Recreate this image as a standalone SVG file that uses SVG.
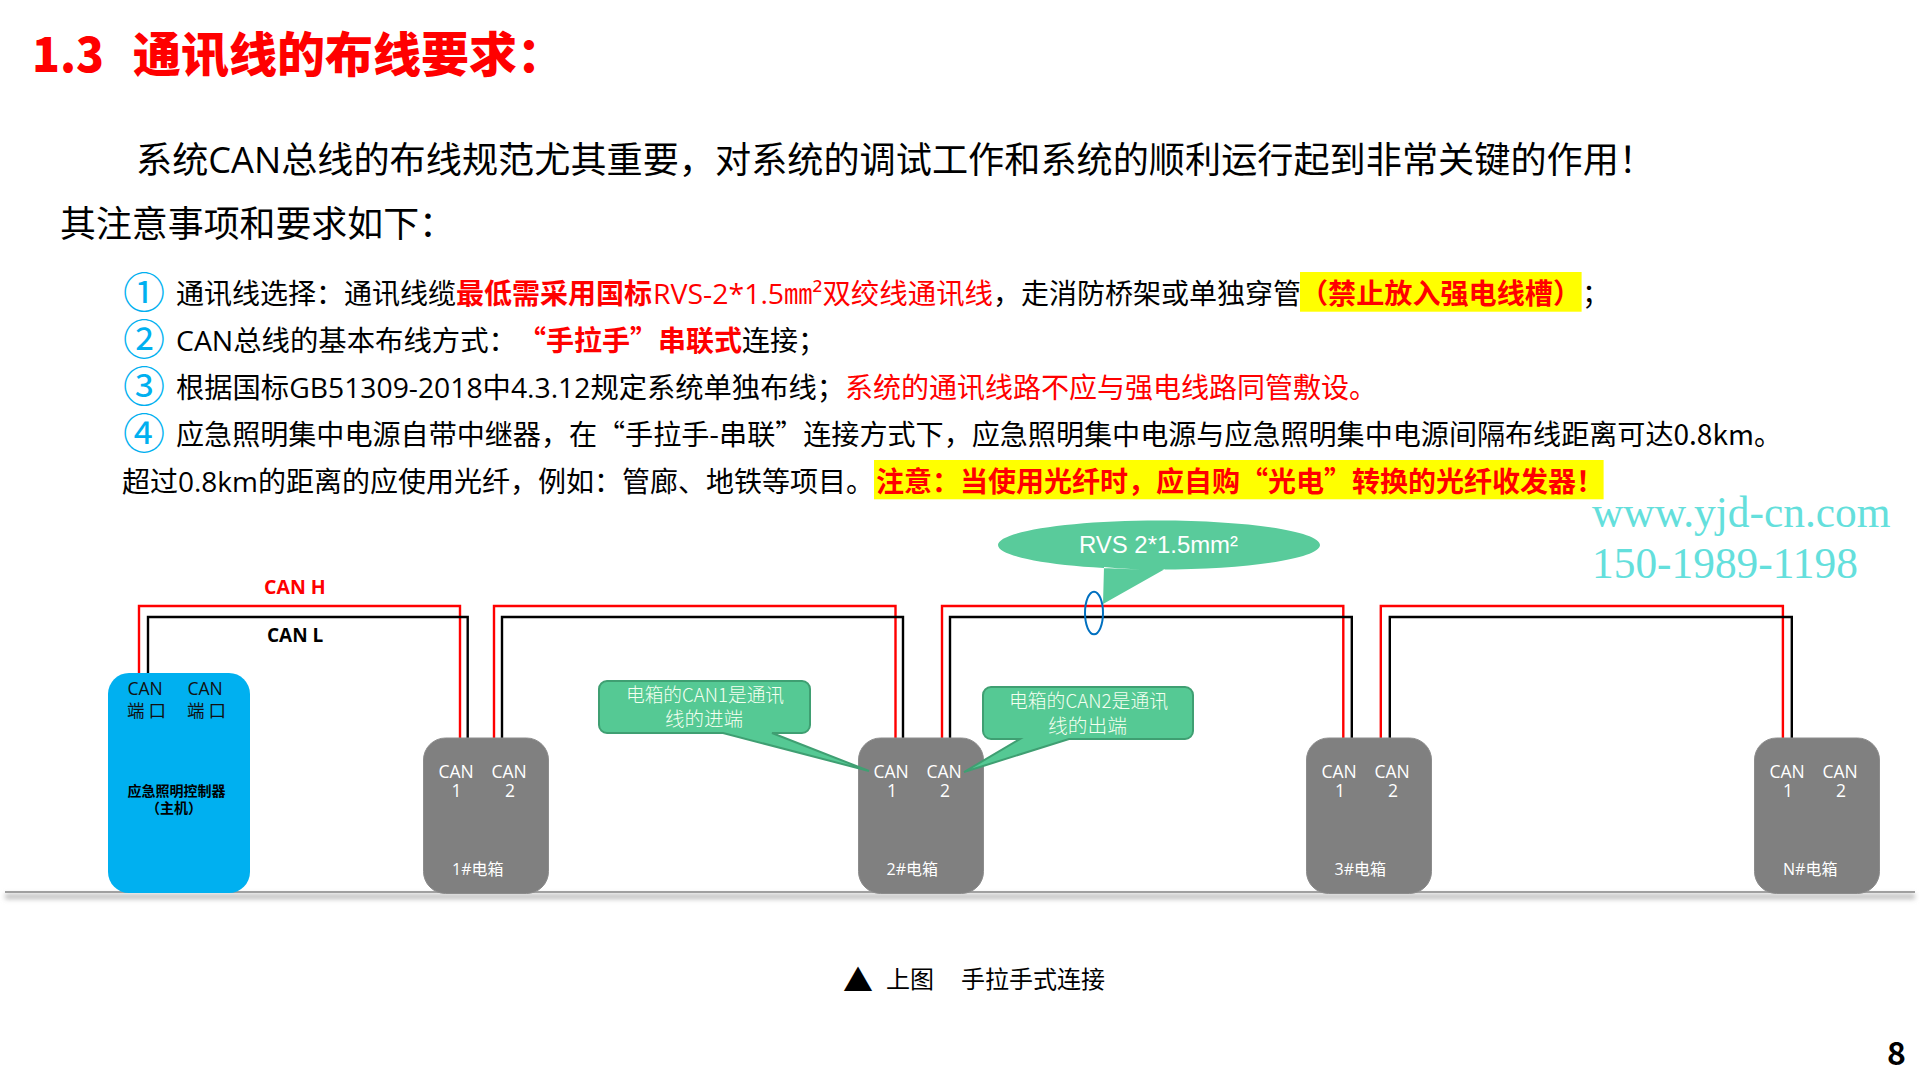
<svg xmlns="http://www.w3.org/2000/svg" width="1920" height="1080" viewBox="0 0 1920 1080">
<defs>
<filter id="sh" x="-2%" y="-300%" width="104%" height="700%"><feGaussianBlur stdDeviation="2.5"/></filter>
</defs>
<style>
text{font-family:"Open Sans","Noto Sans CJK SC",sans-serif;white-space:pre}
.c{font-family:"Noto Sans CJK SC",sans-serif}
.b{font-size:28px;fill:#000}
.r{fill:#f00}
.B{font-weight:700}
.h{fill:#ff0}
.n{font-family:"Noto Sans CJK SC",sans-serif;font-size:42px;fill:#00b0f0;text-anchor:middle}
.red{fill:none;stroke:#f00;stroke-width:2.4}
.blk{fill:none;stroke:#000;stroke-width:2.4}
.box{fill:#808080;stroke:#8c8c8c;stroke-width:1}
.w{fill:#fff;font-size:17.5px}
.wl{fill:#fff;font-size:16px}
.k{fill:#111;font-size:17.5px}
.call{fill:#55c994;stroke:#3f9f72;stroke-width:2}
.ct{fill:#f4fff0;font-size:19px;font-family:"Noto Sans CJK SC",sans-serif;font-weight:300}
.wm{font-family:"Liberation Serif",serif;font-size:43.4px;fill:#64dfdc}
</style>
<rect width="1920" height="1080" fill="#fff"/>
<g id="heading">
<text x="32" y="72" font-size="48" font-weight="900" fill="#f00" class="c" textLength="72" lengthAdjust="spacingAndGlyphs">1.3</text>
<text x="133" y="72" font-size="48" font-weight="900" fill="#f00" class="c" textLength="432" lengthAdjust="spacingAndGlyphs">通讯线的布线要求：</text>
<text x="136" y="173" font-size="36" textLength="1519" lengthAdjust="spacingAndGlyphs">系统CAN总线的布线规范尤其重要，对系统的调试工作和系统的顺利运行起到非常关键的作用！</text>
<text x="60" y="237" font-size="36" textLength="395" lengthAdjust="spacingAndGlyphs">其注意事项和要求如下：</text>
</g>
<g id="list">
<rect class="h" x="1300" y="272" width="281.6" height="39.7"/>
<rect class="h" x="874" y="460" width="729.6" height="39.3"/>
<text class="n" x="144" y="308">①</text>
<text class="n" x="144" y="355">②</text>
<text class="n" x="144" y="402">③</text>
<text class="n" x="144" y="449">④</text>
<text class="b" x="176" y="304" textLength="280" lengthAdjust="spacingAndGlyphs">通讯线选择：通讯线缆</text>
<text class="b r B" x="456" y="304" textLength="196" lengthAdjust="spacingAndGlyphs">最低需采用国标</text>
<text class="b r" x="653" y="304" textLength="340" lengthAdjust="spacingAndGlyphs">RVS-2*1.5㎜²双绞线通讯线</text>
<text class="b" x="993" y="304" textLength="308" lengthAdjust="spacingAndGlyphs">，走消防桥架或单独穿管</text>
<text class="b r B" x="1300" y="304" textLength="281" lengthAdjust="spacingAndGlyphs">（禁止放入强电线槽）</text>
<text class="b" x="1582" y="304">；</text>
<text class="b" x="176" y="351" textLength="341" lengthAdjust="spacingAndGlyphs">CAN总线的基本布线方式：</text>
<text class="b r B c" x="518" y="351" textLength="224" lengthAdjust="spacingAndGlyphs">“手拉手”串联式</text>
<text class="b" x="742" y="351" textLength="84" lengthAdjust="spacingAndGlyphs">连接；</text>
<text class="b" x="176" y="398" textLength="669" lengthAdjust="spacingAndGlyphs">根据国标GB51309-2018中4.3.12规定系统单独布线；</text>
<text class="b r" x="845" y="398" textLength="532" lengthAdjust="spacingAndGlyphs">系统的通讯线路不应与强电线路同管敷设。</text>
<text class="b c" x="176" y="445" textLength="1606" lengthAdjust="spacingAndGlyphs">应急照明集中电源自带中继器，在“手拉手-串联”连接方式下，应急照明集中电源与应急照明集中电源间隔布线距离可达0.8km。</text>
<text class="b" x="122" y="492" textLength="752" lengthAdjust="spacingAndGlyphs">超过0.8km的距离的应使用光纤，例如：管廊、地铁等项目。</text>
<text class="b r B c" x="876" y="492" textLength="728" lengthAdjust="spacingAndGlyphs">注意：当使用光纤时，应自购“光电”转换的光纤收发器！</text>
</g>
<g id="watermark">
<text class="wm" x="1592" y="527">www.yjd-cn.com</text>
<text class="wm" x="1592" y="578">150-1989-1198</text>
</g>
<g id="ground">
<rect x="5" y="894" width="1910" height="5" fill="#bbb" filter="url(#sh)"/>
<rect x="5" y="891" width="1910" height="2" fill="#a0a0a0"/>
</g>
<g id="connectors">
<path class="red" d="M139 673V606H460V738"/>
<path class="blk" d="M148 673V617H467.700V738"/>
<path class="red" d="M494 738V606H895.500V738"/>
<path class="blk" d="M502 738V617H903V738"/>
<path class="red" d="M942 738V606H1343.300V738"/>
<path class="blk" d="M950 738V617H1351.800V738"/>
<path class="red" d="M1380.800 738V606H1782.900V738"/>
<path class="blk" d="M1389.800 738V617H1791.800V738"/>
</g>
<g id="host">
<rect x="108" y="673" width="142" height="220" rx="21" fill="#00b0f0"/>
<text class="k" x="127.500" y="695">CAN</text><text class="k c" x="127" y="716.500">端 口</text>
<text class="k" x="187.500" y="695">CAN</text><text class="k c" x="187" y="716.500">端 口</text>
<text x="127.500" y="795.500" font-size="14" font-weight="700" class="c">应急照明控制器</text>
<text x="146" y="813" font-size="14" font-weight="700" class="c">（主机）</text>
</g>
<g id="box1">
<rect class="box" x="423.500" y="738" width="125" height="155.500" rx="22"/>
<text class="w" x="438.500" y="778">CAN</text><text class="w" x="456.500" y="797" text-anchor="middle">1</text>
<text class="w" x="491.500" y="778">CAN</text><text class="w" x="510" y="797" text-anchor="middle">2</text>
<text class="wl" x="452" y="875">1#电箱</text>
</g>
<g id="box2">
<rect class="box" x="858.500" y="738" width="125" height="155.500" rx="22"/>
<text class="w" x="873.500" y="778">CAN</text><text class="w" x="892" y="797" text-anchor="middle">1</text>
<text class="w" x="926.500" y="778">CAN</text><text class="w" x="945" y="797" text-anchor="middle">2</text>
<text class="wl" x="886.500" y="875">2#电箱</text>
</g>
<g id="box3">
<rect class="box" x="1306.500" y="738" width="125" height="155.500" rx="22"/>
<text class="w" x="1321.500" y="778">CAN</text><text class="w" x="1340" y="797" text-anchor="middle">1</text>
<text class="w" x="1374.500" y="778">CAN</text><text class="w" x="1393" y="797" text-anchor="middle">2</text>
<text class="wl" x="1334.500" y="875">3#电箱</text>
</g>
<g id="boxN">
<rect class="box" x="1754.500" y="738" width="125" height="155.500" rx="22"/>
<text class="w" x="1769.500" y="778">CAN</text><text class="w" x="1788" y="797" text-anchor="middle">1</text>
<text class="w" x="1822.500" y="778">CAN</text><text class="w" x="1841" y="797" text-anchor="middle">2</text>
<text class="wl" x="1783" y="875">N#电箱</text>
</g>
<g id="label-can">
<text x="264" y="594" font-size="19.500" font-weight="700" fill="#f00">CAN H</text>
<text x="267" y="642" font-size="19" font-weight="700" fill="#000">CAN L</text>
</g>
<g id="callout-in">
<path class="call" d="M607 681H802a8 8 0 0 1 8 8V725a8 8 0 0 1-8 8H772L869 771 723 733H607a8 8 0 0 1-8-8V689a8 8 0 0 1 8-8Z"/>
<text class="ct" x="626" y="702" textLength="158" lengthAdjust="spacingAndGlyphs">电箱的CAN1是通讯</text>
<text class="ct" x="665" y="726" textLength="78" lengthAdjust="spacingAndGlyphs">线的进端</text>
</g>
<g id="callout-out">
<path class="call" d="M991 687H1185a8 8 0 0 1 8 8V731a8 8 0 0 1-8 8H1069L964 772 1020 739H991a8 8 0 0 1-8-8V695a8 8 0 0 1 8-8Z"/>
<text class="ct" x="1009" y="708" textLength="159" lengthAdjust="spacingAndGlyphs">电箱的CAN2是通讯</text>
<text class="ct" x="1048" y="733" textLength="79" lengthAdjust="spacingAndGlyphs">线的出端</text>
</g>
<g id="callout-rvs">
<path d="M1159 520.500C1248 520.500 1320 531.500 1320 545S1248 569.500 1159 569.500C1140 569.500 1122 569 1104 567L1103 604 1165 569C1163 569.500 1161 569.500 1159 569.500C1070 569.500 998 558.500 998 545S1070 520.500 1159 520.500Z" fill="#59cb9b"/>
<text x="1079" y="553" font-size="24" fill="#fff" textLength="159" lengthAdjust="spacingAndGlyphs" style="font-family:'Liberation Sans',sans-serif">RVS 2*1.5mm²</text>
</g>
<ellipse id="cable-mark" cx="1094" cy="613" rx="9" ry="21.300" fill="none" stroke="#0070c0" stroke-width="2"/>
<g id="caption">
<text class="c" x="843" y="991" font-size="30">▲</text>
<text class="c" x="886" y="988" font-size="24">上图</text>
<text class="c" x="961" y="988" font-size="24">手拉手式连接</text>
</g>
<text id="page" x="1887" y="1065" font-size="32" font-weight="700" style="font-family:'Noto Sans CJK SC',sans-serif">8</text>
</svg>
